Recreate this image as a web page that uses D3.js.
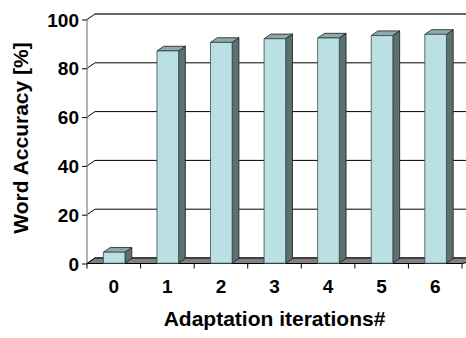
<!DOCTYPE html>
<html>
<head>
<meta charset="utf-8">
<script src="https://cdn.jsdelivr.net/npm/d3@7"></script>
<style>
  html, body { margin: 0; padding: 0; background: #fff; }
  svg { display: block; }
  text { font-family: "Liberation Sans", Arial, sans-serif; font-weight: bold; fill: #000; }
</style>
</head>
<body>
<svg id="chart" width="466" height="338"></svg>
<script>
// Word accuracy after each adaptation iteration
const iterations = ["0", "1", "2", "3", "4", "5", "6"];
const accuracy = [4.5, 87, 90.5, 92, 92.3, 93.3, 93.8];
const yTicks = [0, 20, 40, 60, 80, 100];
const yTitle = "Word Accuracy [%]";
const xTitle = "Adaptation iterations#";

const W = 466, H = 338;
const svg = d3.select("#chart");

// front plane of the 3-D plot box
const x = d3.scaleBand().domain(iterations).range([87, 462]).paddingInner(0).paddingOuter(0);
const y = d3.scaleLinear().domain([0, 100]).range([263.5, 19.5]);

// depth projection: d = 0 is the front plane, d = 1 the back wall
const DX = 8, DY = -5.5;
const proj = (px, v, d) => [px + DX * d, y(v) + DY * d];

// back wall gridlines
const grid = svg.append("g");
yTicks.forEach(t => {
  const [bx, by] = proj(x.range()[0], t, 1);
  const [fx, fy] = proj(x.range()[0], t, 0);
  // gridline across the back wall
  grid.append("line")
    .attr("x1", bx).attr("y1", by).attr("x2", W + 10).attr("y2", by)
    .attr("stroke", t === 100 ? "#333" : "#000").attr("stroke-width", t === 100 ? 1.3 : 1);
  // connector across the left wall
  grid.append("line")
    .attr("x1", fx).attr("y1", fy).attr("x2", bx).attr("y2", by)
    .attr("stroke", "#000").attr("stroke-width", 1);
});

// floor
const x0 = x.range()[0], x1 = x.range()[1];
const floorPts = [proj(x0, 0, 0), proj(x1, 0, 0), proj(x1 + 20, 0, 1), proj(x0, 0, 1)];
svg.append("polygon")
  .attr("points", floorPts.map(p => p.join(",")).join(" "))
  .attr("fill", "#808080").attr("stroke", "#000").attr("stroke-width", 1);

// left wall front edge (value axis)
svg.append("line")
  .attr("x1", x0).attr("y1", y(0)).attr("x2", x0).attr("y2", y(100))
  .attr("stroke", "#808080").attr("stroke-width", 1.2);

// value axis ticks and labels
const yAxis = d3.axisLeft(y).tickValues(yTicks).tickSize(5).tickPadding(3).tickFormat(d3.format("d"));
const yg = svg.append("g").attr("transform", `translate(${x0},0)`).call(yAxis);
yg.select(".domain").remove();
yg.selectAll(".tick line").attr("stroke", "#000");
yg.selectAll(".tick text").style("font-size", "19px").attr("dy", "0.35em");

// category axis ticks and labels
const xAxis = d3.axisBottom(x).tickSize(0).tickPadding(0);
const xg = svg.append("g").attr("transform", `translate(0,${y(0)})`).call(xAxis);
xg.select(".domain").remove();
xg.selectAll(".tick text").style("font-size", "19px").attr("y", 29.5).attr("dy", 0);
// tick marks at category boundaries
const bounds = iterations.map((c, i) => x(c) + x.bandwidth()).concat([x0]);
xg.selectAll(".bound").data(bounds).enter().append("line")
  .attr("x1", d => d).attr("x2", d => d).attr("y1", 0).attr("y2", 5)
  .attr("stroke", "#000");
xg.append("line").attr("x1", x0).attr("x2", x1).attr("y1", 0).attr("y2", 0).attr("stroke", "#000");

// 3-D columns
const barW = 21.6, d0 = 0.05, d1 = 0.9;
const bars = svg.append("g").selectAll("g").data(iterations.map((c, i) => ({ c, v: accuracy[i] }))).enter().append("g");
const cx = d => x(d.c) + x.bandwidth() / 2;
const poly = pts => pts.map(p => p.join(",")).join(" ");
// side face
bars.append("polygon")
  .attr("points", d => poly([
    proj(cx(d) + barW / 2, 0, d0), proj(cx(d) + barW / 2, 0, d1),
    proj(cx(d) + barW / 2, d.v, d1), proj(cx(d) + barW / 2, d.v, d0)]))
  .attr("fill", "#5b7070").attr("stroke", "#1a1a1a").attr("stroke-width", 0.8).attr("stroke-linejoin", "round");
// top face
bars.append("polygon")
  .attr("points", d => poly([
    proj(cx(d) - barW / 2, d.v, d0), proj(cx(d) + barW / 2, d.v, d0),
    proj(cx(d) + barW / 2, d.v, d1), proj(cx(d) - barW / 2, d.v, d1)]))
  .attr("fill", "#8eaaaa").attr("stroke", "#1a1a1a").attr("stroke-width", 0.8).attr("stroke-linejoin", "round");
// front face
bars.append("polygon")
  .attr("points", d => poly([
    proj(cx(d) - barW / 2, 0, d0), proj(cx(d) + barW / 2, 0, d0),
    proj(cx(d) + barW / 2, d.v, d0), proj(cx(d) - barW / 2, d.v, d0)]))
  .attr("fill", "#bbe0e3").attr("stroke", "#3a4a4a").attr("stroke-width", 0.8).attr("stroke-linejoin", "round");

// axis titles
svg.append("text")
  .attr("transform", `translate(28,138) rotate(-90)`)
  .attr("text-anchor", "middle").style("font-size", "21px").text(yTitle);
svg.append("text")
  .attr("x", (x0 + x1) / 2).attr("y", 326)
  .attr("text-anchor", "middle").style("font-size", "21px").text(xTitle);
</script>
</body>
</html>
